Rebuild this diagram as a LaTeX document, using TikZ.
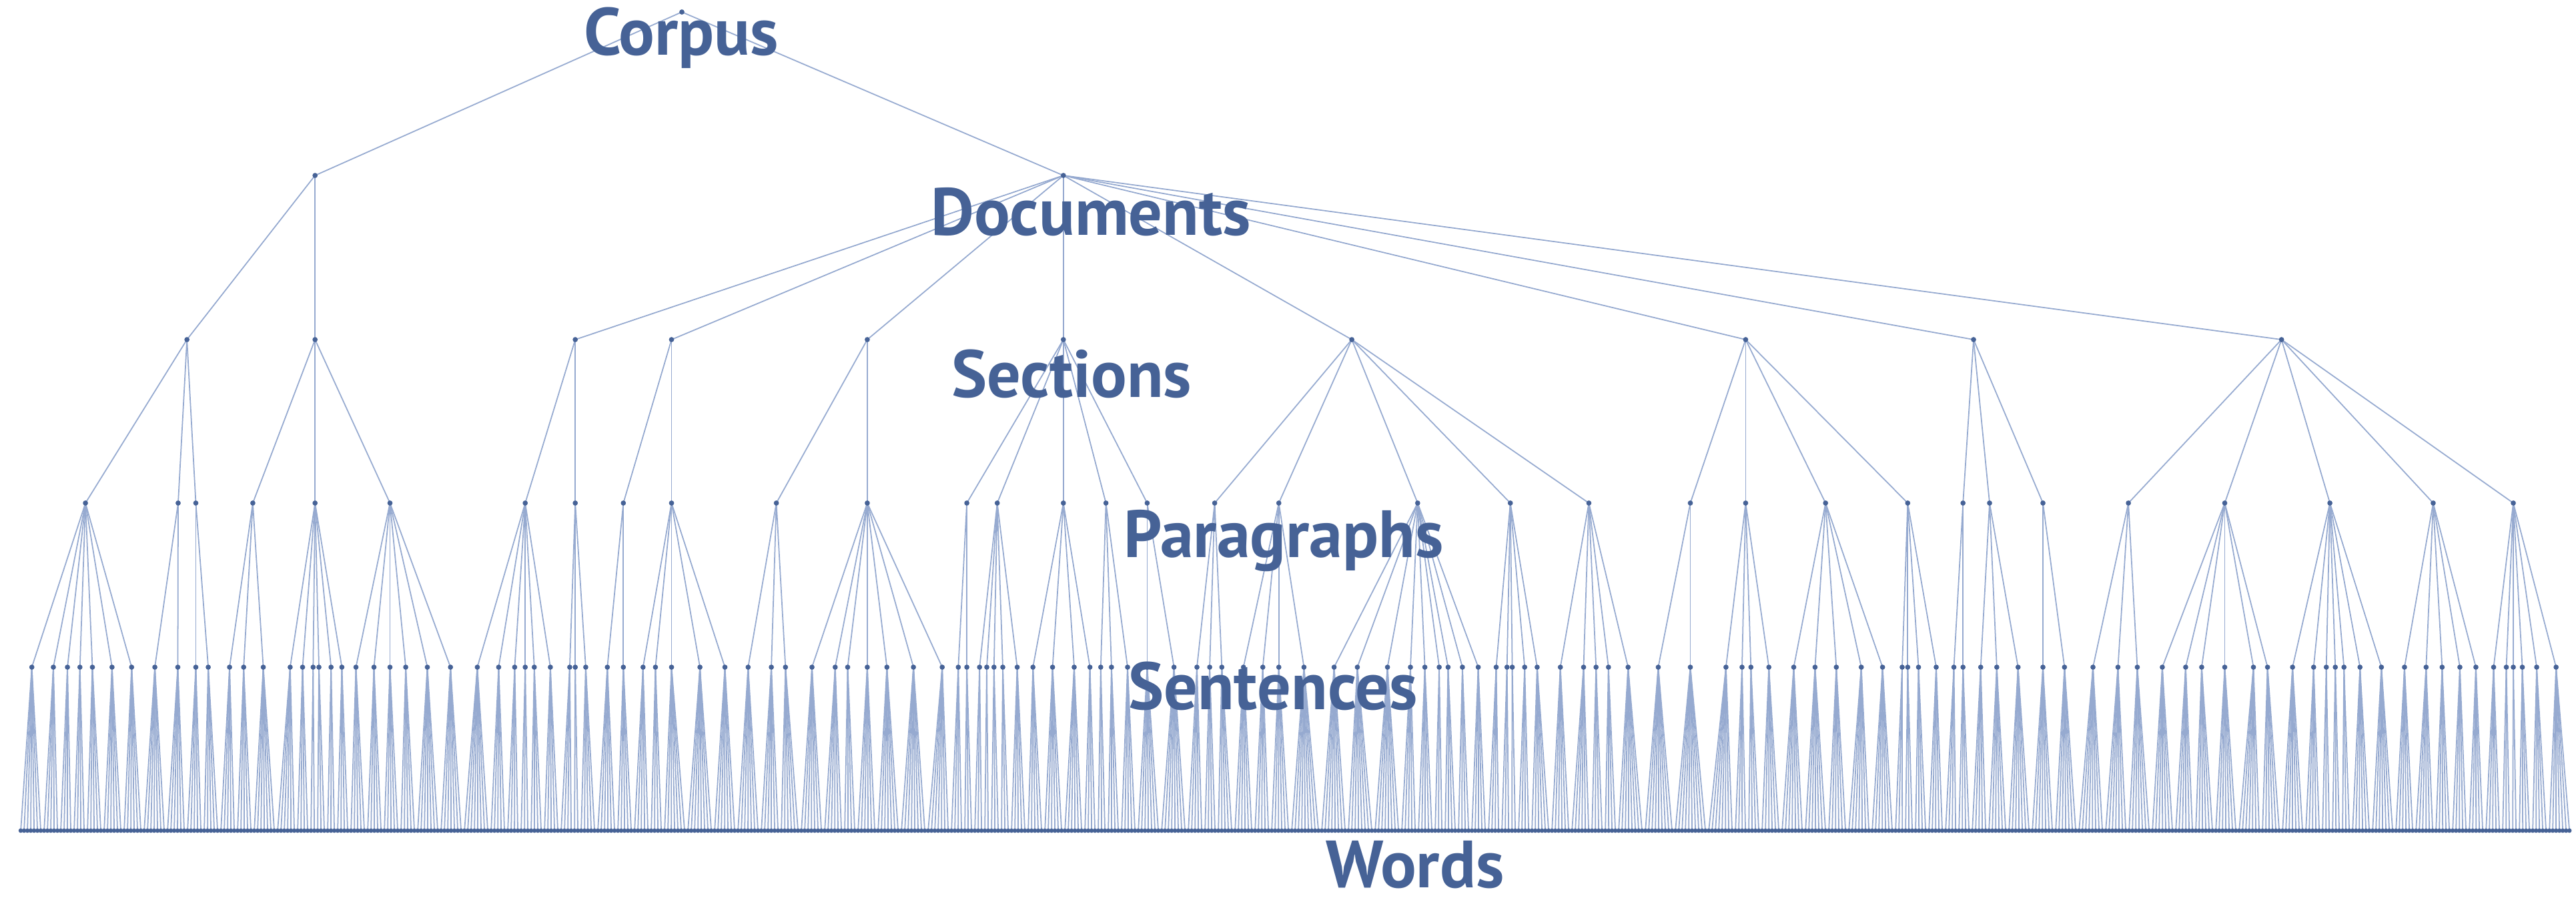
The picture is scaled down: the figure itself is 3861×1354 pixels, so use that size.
\documentclass[tikz,border=0pt]{standalone}
\usepackage{fontspec}
\setmainfont{PT Sans}
\definecolor{treeblue}{RGB}{70,98,150}
\definecolor{edgeblue}{RGB}{150,170,208}
\tikzset{
  edge/.style={edgeblue, line width=0.5pt},
  lvl/.style={text=treeblue, font=\fontsize{28.5}{32}\selectfont\bfseries, inner sep=0pt, anchor=base},
}
\newcommand\sxof[1]{\csname sx#1\endcsname}

% sentences: x / paragraph
\def\sentlist{47.7/1, 80.0/1, 101.1/1, 119.8/1, 138.5/1, 167.9/1, 197.3/1,
  232.1/2, 266.5/2, 293.5/3, 312.1/3, 344.1/4, 365.2/4, 394.6/4,
  434.9/5, 453.5/5, 469.3/5, 478.0/5, 496.2/5, 512.4/5,
  533.5/6, 560.5/6, 584.5/6, 608.1/6, 640.5/6, 675.2/6,
  715.4/7, 747.4/7, 771.4/7, 787.2/7, 800.8/7, 824.9/7,
  853.9/8, 862.2/8, 877.9/8, 910.3/9, 934.3/9,
  963.8/10, 982.4/10, 1006.5/10, 1049.1/10, 1086.5/10,
  1121.3/11, 1156.1/11, 1177.3/11,
  1217.0/12, 1251.8/12, 1270.5/12, 1299.9/12, 1329.3/12, 1369.1/12, 1412.2/12,
  1436.3/13, 1449.1/13, 1468.2/14, 1479.0/14, 1489.8/14, 1503.0/14, 1524.6/14,
  1548.2/15, 1577.6/15, 1610.0/15, 1633.6/15, 1649.8/16, 1665.9/16, 1690.0/16,
  1719.4/17, 1759.6/17, 1794.0/18, 1813.1/18, 1831.3/18,
  1863.7/19, 1892.7/19, 1916.7/19, 1954.4/19,
  1999.6/20, 2034.4/20, 2079.6/20, 2114.0/20, 2135.6/20, 2157.1/20, 2170.4/20, 2191.9/20, 2215.6/20,
  2242.5/21, 2258.7/21, 2266.6/21, 2285.2/21, 2303.9/21,
  2338.7/22, 2373.5/22, 2392.2/22, 2410.8/22, 2440.2/22, 2485.4/23, 2533.5/23,
  2586.9/24, 2611.0/24, 2624.3/24, 2651.2/24,
  2688.5/25, 2720.4/25, 2752.3/25, 2789.7/25, 2821.6/25,
  2851.0/26, 2859.3/26, 2875.5/26, 2902.0/26, 2928.5/27, 2942.2/27,
  2968.7/28, 2992.8/28, 3024.7/28, 3062.0/29, 3094.3/29,
  3137.0/30, 3174.4/30, 3203.4/30,
  3240.9/31, 3275.9/31, 3299.9/31, 3334.5/31, 3377.5/31, 3398.6/31,
  3436.1/32, 3467.7/32, 3486.7/32, 3500.2/32, 3513.2/32, 3537.2/32, 3569.3/32,
  3603.9/33, 3636.3/33, 3660.3/33, 3686.9/33, 3710.9/33,
  3737.5/34, 3756.5/34, 3767.0/34, 3780.5/34, 3802.0/34, 3831.1/34}

\begin{document}
\begin{tikzpicture}[x=0.01cm, y=-0.01cm]
    \useasboundingbox (0,0) rectangle (3861,1354);

    \coordinate (c) at (1022,18);
    \coordinate (d1) at (472.2,263);
    \coordinate (d2) at (1593.8,263);
    \draw[edge] (c) -- (d1);
    \draw[edge] (c) -- (d2);

    % sections: x / document
    \foreach \x/\p [count=\i] in {280.2/1, 472.2/1, 862.2/2, 1006.5/2, 1299.9/2,
        1593.8/2, 2026.1/2, 2616.4/2, 2958.0/2, 3419.6/2}{
      \coordinate (sec\i) at (\x,509);
      \draw[edge] (d\p) -- (sec\i);
    }

    % paragraphs: x / section
    \foreach \x/\p [count=\i] in {128.1/1, 267.0/1, 293.5/1, 378.9/2, 472.2/2, 584.5/2,
        787.2/3, 862.2/3, 934.3/4, 1006.5/4, 1163.6/5, 1299.9/5,
        1449.1/6, 1494.7/6, 1593.8/6, 1657.6/6, 1719.4/6,
        1820.6/7, 1916.7/7, 2124.8/7, 2263.7/7, 2381.4/7,
        2533.5/8, 2616.4/8, 2736.2/8, 2859.3/8, 2942.2/9, 2982.0/9, 3062.0/9,
        3190.1/10, 3334.5/10, 3492.1/10, 3646.9/10, 3767.0/10}{
      \coordinate (p\i) at (\x,754);
      \draw[edge] (sec\p) -- (p\i);
    }

    \foreach \x/\p [count=\i] in \sentlist{
      \coordinate (s\i) at (\x,1000);
      \draw[edge] (p\p) -- (s\i);
      \expandafter\xdef\csname sx\i\endcsname{\x}
    }
    \expandafter\def\csname sx0\endcsname{-1000}
    \expandafter\def\csname sx144\endcsname{9000}

    % words, evenly spaced
    \foreach \k in {0,...,764}
      \coordinate (w\k) at ({31.1+\k*5},1245);

    \foreach \i in {1,...,143}{
      \pgfmathtruncatemacro\j{\i-1}
      \pgfmathtruncatemacro\n{\i+1}
      \pgfmathtruncatemacro\kl{max(0,ceil(((\sxof{\j}+\sxof{\i})/2-31.1)/5))}
      \pgfmathtruncatemacro\kr{min(764,ceil(((\sxof{\i}+\sxof{\n})/2-31.1)/5)-1)}
      \foreach \k in {\kl,...,\kr}
        \draw[edge] (s\i) -- (w\k);
    }

    \fill[treeblue] (c) circle (1.1pt) (d1) circle (1.1pt) (d2) circle (1.1pt);
    \foreach \i in {1,...,10}
      \fill[treeblue] (sec\i) circle (1.1pt);
    \foreach \i in {1,...,34}
      \fill[treeblue] (p\i) circle (1.1pt);
    \foreach \i in {1,...,143}
      \fill[treeblue] (s\i) circle (1.1pt);
    \foreach \k in {0,...,764}
      \fill[treeblue] (w\k) circle (0.95pt);

    \node[lvl] (corpus) at (1021,82) {Corpus};
    \node[lvl] (documents) at (1635,352) {Documents};
    \node[lvl] (sections) at (1606,595) {Sections};
    \node[lvl] (paragraphs) at (1924,835) {Paragraphs};
    \node[lvl] (sentences) at (1908,1063) {Sentences};
    \node[lvl] (words) at (2121,1330) {Words};

\end{tikzpicture}
\end{document}
